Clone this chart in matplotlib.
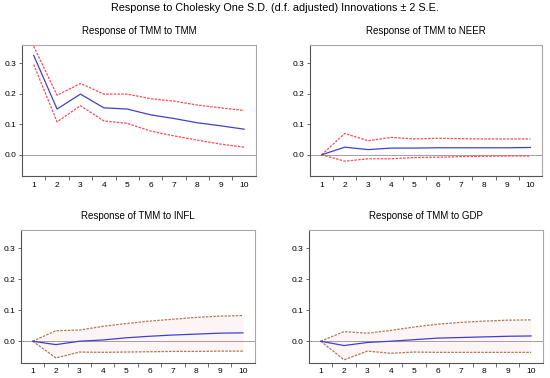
import matplotlib
matplotlib.use("Agg")
import matplotlib.pyplot as plt

plt.rcParams['font.family'] = ['Liberation Sans', 'DejaVu Sans']

periods = list(range(1, 11))

# Response of TMM to TMM
tmm_mid = [0.326, 0.150, 0.199, 0.154, 0.150, 0.131, 0.119, 0.105, 0.095, 0.084]
tmm_up = [0.356, 0.195, 0.234, 0.199, 0.199, 0.184, 0.176, 0.163, 0.154, 0.145]
tmm_lo = [0.296, 0.108, 0.161, 0.111, 0.103, 0.078, 0.062, 0.048, 0.035, 0.025]

# Response of TMM to NEER
neer_mid = [0.0, 0.025, 0.017, 0.022, 0.022, 0.023, 0.023, 0.023, 0.023, 0.024]
neer_up = [0.0, 0.070, 0.046, 0.057, 0.052, 0.054, 0.053, 0.052, 0.052, 0.052]
neer_lo = [0.0, -0.021, -0.013, -0.013, -0.009, -0.008, -0.006, -0.005, -0.004, -0.004]

# Response of TMM to INFL
infl_mid = [0.0, -0.011, 0.0, 0.004, 0.011, 0.016, 0.020, 0.023, 0.026, 0.027]
infl_up = [0.0, 0.034, 0.036, 0.048, 0.057, 0.065, 0.071, 0.077, 0.081, 0.083]
infl_lo = [0.0, -0.054, -0.035, -0.036, -0.035, -0.034, -0.033, -0.033, -0.032, -0.032]

# Response of TMM to GDP
gdp_mid = [0.0, -0.014, -0.004, 0.0, 0.005, 0.010, 0.012, 0.014, 0.016, 0.017]
gdp_up = [0.0, 0.031, 0.026, 0.035, 0.046, 0.055, 0.061, 0.065, 0.068, 0.069]
gdp_lo = [0.0, -0.060, -0.032, -0.039, -0.035, -0.036, -0.036, -0.036, -0.036, -0.036]

panels = [
    ("Response of TMM to TMM", tmm_mid, tmm_up, tmm_lo, [0.040, 0.534, 0.425, 0.347], False),
    ("Response of TMM to NEER", neer_mid, neer_up, neer_lo, [0.5636, 0.534, 0.422, 0.347], False),
    ("Response of TMM to INFL", infl_mid, infl_up, infl_lo, [0.038, 0.040, 0.425, 0.352], True),
    ("Response of TMM to GDP", gdp_mid, gdp_up, gdp_lo, [0.5618, 0.040, 0.425, 0.352], True),
]

fig = plt.figure(figsize=(5.5, 3.78), dpi=100)
fig.text(0.5, 0.978, "Response to Cholesky One S.D. (d.f. adjusted) Innovations \u00b1 2 S.E.",
         ha='center', va='center', fontsize=7.8)

for title, mid, up, lo, rect, shaded in panels:
    ax = fig.add_axes(rect)
    ax.set_xlim(0.5, 10.5)
    ax.set_ylim(-0.07, 0.36)
    ax.axhline(0, color='#a0a0a0', lw=0.7, zorder=1)
    if shaded:
        ax.fill_between(periods, lo, up, color='#fdeef1', alpha=0.6, lw=0, zorder=0)
        band_color = '#b07a55'
    else:
        band_color = '#ff4a5a'
    ax.plot(periods, up, color=band_color, lw=0.9, ls=(0, (2, 1)), zorder=2)
    ax.plot(periods, lo, color=band_color, lw=0.9, ls=(0, (2, 1)), zorder=2)
    ax.plot(periods, mid, color='#4040d0', lw=0.9, zorder=3)
    ax.set_title(title, fontsize=7, pad=8)

    ax.set_xticks(periods)
    ax.set_xticklabels([str(p) for p in periods], fontsize=6)
    ax.set_xticks([p + 0.5 for p in periods[:-1]], minor=True)
    ax.tick_params(axis='x', which='major', length=0, pad=4)
    ax.tick_params(axis='x', which='minor', length=3, width=0.6, color='#555555')
    ax.set_yticks([0.0, 0.1, 0.2, 0.3])
    ax.set_yticklabels(['0.0', '0.1', '0.2', '0.3'], fontsize=6)
    ax.tick_params(axis='y', length=2, width=0.6, pad=2, color='#555555')

    for side in ['left', 'bottom']:
        ax.spines[side].set_color('#555555')
        ax.spines[side].set_linewidth(0.8)
    for side in ['top', 'right']:
        ax.spines[side].set_color('#a8a8a8')
        ax.spines[side].set_linewidth(0.8)

fig.savefig("out.png", dpi=100)
